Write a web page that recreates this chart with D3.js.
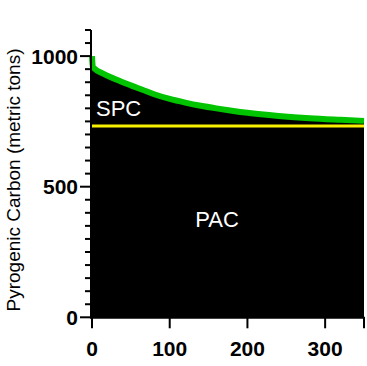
<!DOCTYPE html>
<html>
<head>
<meta charset="utf-8">
<script src="https://cdn.jsdelivr.net/npm/d3@7"></script>
<style>
  html, body { margin: 0; padding: 0; background: #fff; }
  svg { display: block; }
</style>
</head>
<body>
<svg id="chart" width="367" height="366"></svg>
<script>
// ---- data ----
const days = [0, 1, 5, 13, 25, 38, 50, 65, 80, 100, 120, 140, 160, 180, 200, 240, 280, 320, 350];
const totalPC = [1000, 960, 948, 935, 918, 902, 888, 871, 854, 836, 822, 810, 800, 791, 783, 771, 762, 756, 752];
const pacValue = 732;
const xTicks = [0, 100, 200, 300, 350];
const xTickLabels = ["0", "100", "200", "300", ""];
const yMajorTicks = [0, 500, 1000];
const yMinorTicks = d3.range(0, 1101, 50);
const yTitle = "Pyrogenic Carbon (metric tons)";
const regionLabels = ["SPC", "PAC"];

// ---- layout ----
const svg = d3.select("#chart");
const x = d3.scaleLinear().domain([0, 350]).range([92, 364]);
const y = d3.scaleLinear().domain([0, 1000]).range([317.3, 56.1]);

const pts = days.map((d, i) => ({ d, v: totalPC[i] }));

// black area (PAC + SPC)
const area = d3.area()
  .x(p => x(p.d))
  .y0(y(0))
  .y1(p => y(p.v))
  .curve(d3.curveMonotoneX);
svg.append("path").datum(pts).attr("d", area).attr("fill", "#000");

// PAC line
svg.append("line")
  .attr("x1", x(0)).attr("x2", x(350))
  .attr("y1", y(pacValue)).attr("y2", y(pacValue))
  .attr("stroke", "#f8f000").attr("stroke-width", 3);

// total line
const line = d3.line().x(p => x(p.d)).y(p => y(p.v)).curve(d3.curveMonotoneX);
svg.append("path").datum(pts).attr("d", line)
  .attr("fill", "none").attr("stroke", "#00c400").attr("stroke-width", 6)
  .attr("stroke-linejoin", "round").attr("stroke-linecap", "butt");

// region labels
svg.append("text").text(regionLabels[0])
  .attr("x", x(5.1)).attr("y", y(770))
  .attr("fill", "#fff").attr("font-family", "Liberation Sans, Arial, sans-serif")
  .attr("font-size", 22);
svg.append("text").text(regionLabels[1])
  .attr("x", x(161)).attr("y", y(345)).attr("text-anchor", "middle")
  .attr("fill", "#fff").attr("font-family", "Liberation Sans, Arial, sans-serif")
  .attr("font-size", 22);

// y axis
const yAxisG = svg.append("g");
yAxisG.append("line")
  .attr("x1", 91).attr("x2", 91)
  .attr("y1", y(1100)).attr("y2", y(0) + 1)
  .attr("stroke", "#000").attr("stroke-width", 2);
yAxisG.selectAll("line.minor").data(yMinorTicks).join("line")
  .attr("class", "minor")
  .attr("x1", d => yMajorTicks.includes(d) ? 80 : 85).attr("x2", 91)
  .attr("y1", d => y(d)).attr("y2", d => y(d))
  .attr("stroke", "#000").attr("stroke-width", 2);
yAxisG.selectAll("text").data(yMajorTicks).join("text")
  .attr("x", 78).attr("y", d => y(d))
  .attr("dy", "0.36em")
  .attr("text-anchor", "end")
  .attr("font-family", "Liberation Sans, Arial, sans-serif")
  .attr("font-weight", "bold").attr("font-size", 21)
  .text(d => d);

// x axis
const xAxisG = svg.append("g");
xAxisG.append("line")
  .attr("x1", 90).attr("x2", 365)
  .attr("y1", y(0) + 0.5).attr("y2", y(0) + 0.5)
  .attr("stroke", "#000").attr("stroke-width", 2);
xAxisG.selectAll("line.tick").data(xTicks).join("line")
  .attr("class", "tick")
  .attr("x1", d => x(d)).attr("x2", d => x(d))
  .attr("y1", y(0)).attr("y2", y(0) + 11)
  .attr("stroke", "#000").attr("stroke-width", 2);
xAxisG.selectAll("text").data(xTicks).join("text")
  .attr("x", d => x(d)).attr("y", 356)
  .attr("text-anchor", "middle")
  .attr("font-family", "Liberation Sans, Arial, sans-serif")
  .attr("font-weight", "bold").attr("font-size", 21)
  .text((d, i) => xTickLabels[i]);

// y title
svg.append("text")
  .attr("transform", `translate(19.5,180) rotate(-90)`)
  .attr("text-anchor", "middle")
  .attr("font-family", "Liberation Sans, Arial, sans-serif")
  .attr("font-size", 19)
  .text(yTitle);
</script>
</body>
</html>
